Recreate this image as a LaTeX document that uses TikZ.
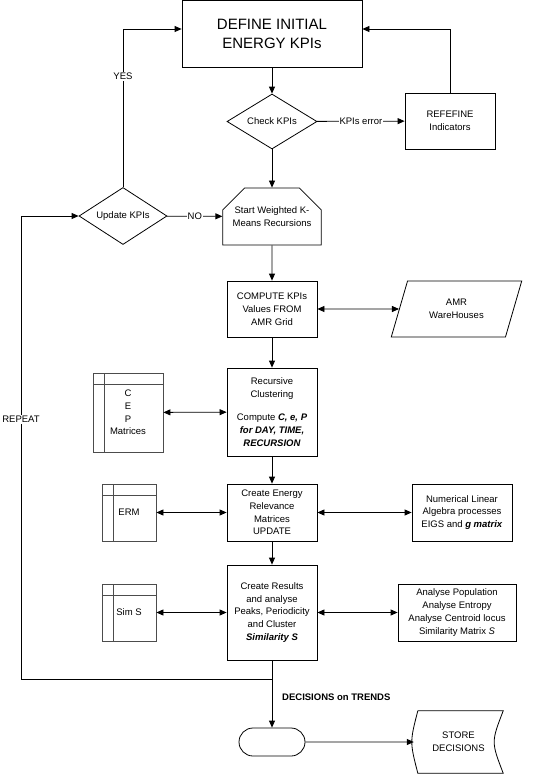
\documentclass[tikz,border=0pt]{standalone}
\usepackage{fontspec}
\setmainfont{Liberation Sans}
\usetikzlibrary{arrows.meta,shapes.geometric,shapes.misc}

\begin{document}
\begin{tikzpicture}[x=1pt,y=-1pt,
    line/.style={draw, line width=0.8pt},
    flow/.style={line, -{Triangle[length=7pt,width=6pt]}},
    both/.style={line, {Triangle[length=7pt,width=6pt]}-{Triangle[length=7pt,width=6pt]}},
    txt/.style={font=\fontsize{9.5}{12.8}\selectfont, align=center},
    proc/.style={line, txt, rectangle, inner sep=1pt, minimum width=90pt},
    decide/.style={line, txt, diamond, aspect=1.6, inner sep=0pt},
    datastore/.style={draw=black!70, line width=0.8pt, txt, rectangle, inner sep=0pt,
        path picture={
            \draw[black!70, line width=0.8pt] ([xshift=11pt]path picture bounding box.north west) -- ([xshift=11pt]path picture bounding box.south west);
            \draw[black!70, line width=0.8pt] ([yshift=-11.5pt]path picture bounding box.north west) -- ([yshift=-11.5pt]path picture bounding box.north east);
        }},
    lbl/.style={txt, fill=white, inner sep=1pt}
]
    \useasboundingbox (0,0) rectangle (551,774);

    % Top of the loop
    \node[proc, minimum width=180pt, minimum height=67pt, font=\fontsize{15}{19}\selectfont] (define) at (272,33.5) {DEFINE INITIAL\\ENERGY KPIs};
    \node[decide, minimum width=90pt, minimum height=55pt] (check) at (272,121.5) {Check KPIs};
    \node[proc, minimum height=56pt] (refine) at (450,121) {REFEFINE\\Indicators};

    % K-Means start and update decision
    \node[line, txt, chamfered rectangle, chamfered rectangle corners={north west,north east},
        chamfered rectangle xsep=10pt, chamfered rectangle ysep=12pt, inner sep=0pt,
        minimum width=90pt, minimum height=57pt] (start) at (272,216.5) {Start Weighted K-\\Means Recursions};
    \node[decide, minimum width=88pt, minimum height=57pt] (update) at (123,216) {Update KPIs};

    % Main column
    \node[proc, minimum height=56pt] (compute) at (272,309) {COMPUTE KPIs\\Values FROM\\AMR Grid};
    \node[line, txt, trapezium, trapezium left angle=65, trapezium right angle=115, trapezium stretches,
        inner sep=0pt, minimum width=131pt, minimum height=56pt] (amr) at (456.5,309) {AMR\\WareHouses};
    \node[proc, minimum height=88pt] (recur) at (272,412) {Recursive\\Clustering\\[11pt]Compute \textbf{\textit{C, e, P}}\\\textbf{\textit{for DAY, TIME,}}\\\textbf{\textit{RECURSION}}};
    \node[datastore, minimum width=70pt, minimum height=79pt] (cep) at (128,412.5) {C\\E\\P\\Matrices};
    \node[proc, minimum height=57pt] (relev) at (272,512.5) {Create Energy\\Relevance\\Matrices\\UPDATE};
    \node[datastore, minimum width=54pt, minimum height=57pt] (erm) at (129,512.5) {ERM};
    \node[proc, minimum width=100pt, minimum height=57pt] (linalg) at (462,512.5) {Numerical Linear\\Algebra processes\\EIGS and \textbf{\textit{g matrix}}};
    \node[proc, minimum height=95pt] (results) at (272,612.5) {Create Results\\and analyse\\Peaks, Periodicity\\and Cluster\\\textbf{\textit{Similarity S}}};
    \node[datastore, minimum width=54pt, minimum height=57pt] (sims) at (129,612.5) {Sim S};
    \node[proc, minimum width=118pt, minimum height=57pt] (analyse) at (457,612.5) {Analyse Population\\Analyse Entropy\\Analyse Centroid locus\\Similarity Matrix \textit{S}};

    % Decisions
    \node[font=\fontsize{9.5}{12.8}\selectfont\bfseries, anchor=west, inner sep=0pt] (declbl) at (282,697) {DECISIONS on TRENDS};
    \node[line, rounded rectangle, minimum width=66pt, minimum height=28pt, inner sep=0pt] (term) at (272,742) {};
    \node[txt, minimum width=89pt, minimum height=62pt, inner sep=0pt] (store) at (458.5,742) {STORE\\DECISIONS};
    \draw[line] ([xshift=4pt]store.north west) -- (store.north east)
        .. controls ([xshift=-12pt]store.east) .. (store.south east)
        -- ([xshift=4pt]store.south west)
        .. controls ([xshift=-4pt]store.west) .. ([xshift=4pt]store.north west);

    \coordinate (join) at (272,679);
    \coordinate (bend) at (21,679);

    % Connectors
    \draw[flow] (define) -- (check);
    \draw[flow] (check) -- node[lbl] {KPIs error} (refine);
    \draw[flow] (refine.north) |- ([yshift=4.5pt]define.east);
    \draw[flow] (check) -- (start);
    \draw[flow] (update) -- node[lbl] {NO} (start);
    \draw[flow] (update.north) |- node[lbl, pos=0.35] {YES} ([yshift=4.5pt]define.west);
    \draw[flow] (start) -- (compute);
    \draw[both] (compute) -- (amr);
    \draw[flow] (compute) -- (recur);
    \draw[both] (cep) -- (recur);
    \draw[flow] (recur) -- (relev);
    \draw[both] (erm) -- (relev);
    \draw[both] (relev) -- (linalg);
    \draw[flow] (relev) -- (results);
    \draw[both] (sims) -- (results);
    \draw[both] (results) -- (analyse);
    \draw[flow] (results) -- (term);
    \draw[flow] (join) -- (bend) |- node[lbl, pos=0.28] {REPEAT} (update.west);
    \draw[flow] (term) -- (store);
\end{tikzpicture}
\end{document}
